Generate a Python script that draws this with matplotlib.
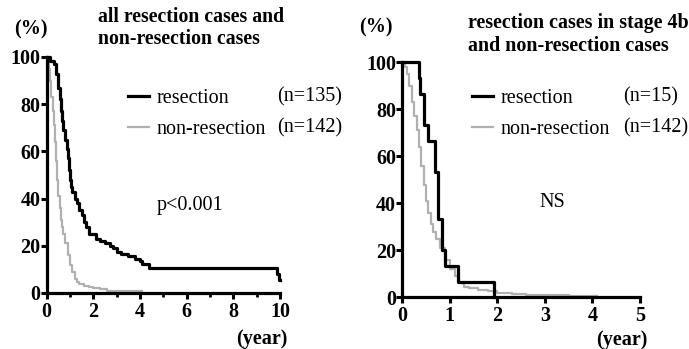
import matplotlib
matplotlib.use("Agg")
import matplotlib.pyplot as plt
from matplotlib.ticker import MultipleLocator

plt.rcParams['font.family'] = ['Liberation Serif', 'DejaVu Serif']

# ---- data ----
left_res_t = [0, 0.15, 0.3, 0.4, 0.5, 0.55, 0.6, 0.65, 0.7, 0.78, 0.85, 0.9, 0.95,
              1.0, 1.05, 1.1, 1.2, 1.3, 1.4, 1.5, 1.6, 1.7, 1.8, 2.1, 2.3, 2.5,
              2.7, 2.85, 3.0, 3.2, 3.5, 3.8, 4.0, 4.1, 4.4, 9.85, 9.95, 10.0]
left_res_s = [100, 98.5, 97, 93, 87, 82, 77, 73, 69, 65, 61, 57, 52,
              48, 45, 43, 40, 38, 35, 33, 30, 28, 25, 23, 22, 21,
              20, 19, 17.5, 16.5, 15.5, 14.5, 13.5, 12.5, 10.4, 8, 5.5, 5.5]

nonres_t = [0, 0.05, 0.1, 0.15, 0.2, 0.25, 0.3, 0.35, 0.4, 0.45, 0.5, 0.55, 0.6,
            0.65, 0.7, 0.8, 0.9, 1.0, 1.1, 1.2, 1.3, 1.4, 1.6, 1.8, 2.0, 2.3,
            2.6, 3.0, 3.5, 4.1]
nonres_s = [100, 98, 95, 90, 83, 77, 71, 64, 56, 48, 41, 36, 31,
            28, 25, 21, 16, 12, 9, 6, 4.5, 3.8, 3, 2.5, 2, 1.5,
            1, 0.8, 0.7, 0.7]

right_res_t = [0, 0.35, 0.38, 0.46, 0.55, 0.69, 0.76, 0.83, 0.9, 1.18, 1.92]
right_res_s = [100, 93.3, 86.7, 73.3, 66.7, 53.3, 33.3, 20, 13.3, 6.7, 0]

yticks = [0, 20, 40, 60, 80, 100]
left_xticks = [0, 2, 4, 6, 8, 10]
right_xticks = [0, 1, 2, 3, 4, 5]

left_title = ["all resection cases and", "non-resection cases"]
right_title = ["resection cases in stage 4b", "and non-resection cases"]
legend_labels = ["resection", "non-resection"]
left_n = ["(n=135)", "(n=142)"]
right_n = ["(n=15)", "(n=142)"]

W, H = 689, 349
fig = plt.figure(figsize=(W / 100, H / 100), dpi=100)

def fx(p):
    return p / W

def fy(p):
    return 1 - p / H

axL = fig.add_axes([fx(46.7), fy(293), fx(280 - 46.7), (293 - 57) / H])
axR = fig.add_axes([fx(402.3), fy(297.3), fx(640 - 402.3), (297.3 - 62.3) / H])

black = '#000000'
gray = '#b0b0b0'
lw_b = 2.3
lw_g = 1.6
tick_fs = 14.5

def style(ax, xlim, xticks, minor=None):
    ax.set_xlim(*xlim)
    ax.set_ylim(0, 100)
    for s in ['top', 'right']:
        ax.spines[s].set_visible(False)
    for s in ['left', 'bottom']:
        ax.spines[s].set_linewidth(2.3)
    ax.set_xticks(xticks)
    ax.set_xticklabels([str(v) for v in xticks], fontsize=tick_fs, fontweight='bold')
    ax.set_yticks(yticks)
    ax.set_yticklabels([str(v) for v in yticks], fontsize=tick_fs, fontweight='bold')
    if minor:
        ax.xaxis.set_minor_locator(MultipleLocator(minor))
        ax.tick_params(axis='x', which='minor', direction='out', length=3, width=2)
    ax.tick_params(axis='both', which='major', direction='out', length=4.5, width=2.2)
    ax.tick_params(axis='y', pad=0)
    ax.tick_params(axis='x', pad=2)

# left
g1, = axL.step(nonres_t, nonres_s, where='post', color=gray, lw=lw_g, clip_on=False)
b1, = axL.step(left_res_t, left_res_s, where='post', color=black, lw=lw_b, clip_on=False)
style(axL, (0, 10), left_xticks, minor=1)

# right
g2, = axR.step(nonres_t, nonres_s, where='post', color=gray, lw=lw_g, clip_on=False)
b2, = axR.step(right_res_t, right_res_s, where='post', color=black, lw=lw_b, clip_on=False)
style(axR, (0, 5), right_xticks)

fs = 14.5
for hx, nx, nlabs, bl, gl in [(128, 277, left_n, b1, g1), (472, 623, right_n, b2, g2)]:
    fig.legend([bl, gl], legend_labels, loc='center left',
               bbox_to_anchor=(fx(hx), fy(114)), frameon=False, fontsize=fs,
               handlelength=1.05, handletextpad=0.35, borderpad=0, borderaxespad=0,
               labelspacing=0.6)
    for yy, t in zip([97, 128], nlabs):
        fig.text(fx(nx), fy(yy), t, fontsize=fs, va='center', ha='left')

# titles
for (x0, ys, tfs), lines in [((98.5, (21.5, 43.5), 14.2), left_title),
                             ((468, (28, 51), 14.4), right_title)]:
    for yy, line in zip(ys, lines):
        fig.text(fx(x0), fy(yy), line, fontsize=tfs, fontweight='bold',
                 va='baseline', ha='left')

# axis units
fig.text(fx(31), fy(29), "(%)", fontsize=14.5, fontweight='bold', ha='center', va='center')
fig.text(fx(376), fy(27.5), "(%)", fontsize=14.5, fontweight='bold', ha='center', va='center')
fig.text(fx(262), fy(339), "(year)", fontsize=14.5, fontweight='bold', ha='center', va='center')
fig.text(fx(622), fy(340.5), "(year)", fontsize=14.5, fontweight='bold', ha='center', va='center')

# stats
fig.text(fx(190), fy(205), "p<0.001", fontsize=fs, ha='center', va='center')
fig.text(fx(552), fy(203), "NS", fontsize=fs, ha='center', va='center')

fig.savefig("out.png", dpi=100)
